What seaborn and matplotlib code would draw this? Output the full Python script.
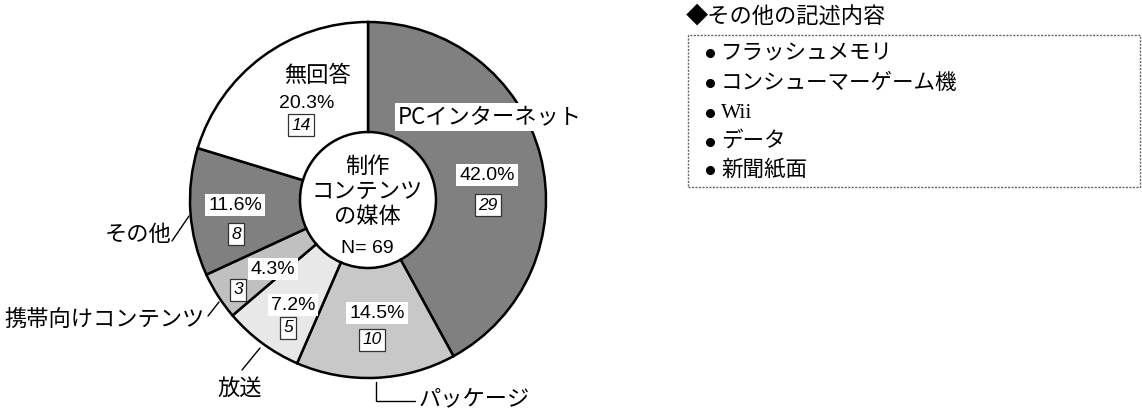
import matplotlib
matplotlib.use("Agg")
import matplotlib.pyplot as plt
import seaborn as sns

# Survey results: media used for produced content (N = 69)
categories = ["PCインターネット", "パッケージ", "放送", "携帯向けコンテンツ", "その他", "無回答"]
counts = [29, 10, 5, 3, 8, 14]
percents = [42.0, 14.5, 7.2, 4.3, 11.6, 20.3]
center_lines = ["制作", "コンテンツ", "の媒体"]
sample_size = 69
other_title = "◆その他の記述内容"
other_items = ["フラッシュメモリ", "コンシューマーゲーム機", "Wii", "データ", "新聞紙面"]

slice_colors = ["#808080", "#c8c8c8", "#e8e8e8", "#c0c0c0", "#808080", "#ffffff"]

sns.set_theme(style="white")
plt.rcParams["font.family"] = ["Noto Sans CJK JP", "DejaVu Sans"]
plt.rcParams["text.color"] = "black"

W, H = 1142, 412
fig = plt.figure(figsize=(W / 100, H / 100), dpi=100)
ax = fig.add_axes([0, 0, 1, 1])


def py(y):
    """Convert a top-down pixel row to the axes' bottom-up coordinate."""
    return H - y


cx, cy = 368, 200
r_out, r_in = 178, 68

ax.pie(
    counts,
    colors=slice_colors,
    startangle=90,
    counterclock=False,
    center=(cx, py(cy)),
    radius=r_out,
    wedgeprops=dict(width=r_out - r_in, edgecolor="black", linewidth=1.8),
)
ax.set_xlim(0, W)
ax.set_ylim(0, H)
ax.set_aspect("equal")
ax.axis("off")

latin = ["Liberation Sans", "DejaVu Sans"]
cjk = ["Noto Sans CJK JP", "DejaVu Sans"]
CAT = dict(fontsize=16, family=cjk, weight="normal", color="black")

# percentage and count labels (x, y of percent text; x, y of count box)
pct_pos = [(487, 175), (377, 313), (293, 305), (273, 269), (235, 205), (307, 103)]
cnt_pos = [(488, 205), (372, 340), (288, 328), (238, 290), (236, 234), (301, 125)]
for p, n, (px_, py_), (qx, qy) in zip(percents, counts, pct_pos, cnt_pos):
    ax.text(px_, py(py_), f"{p:.1f}%", ha="center", va="center", fontsize=14,
            family=latin, color="black",
            bbox=dict(boxstyle="square,pad=0.15", fc="white", ec="none"))
    ax.text(qx, py(qy), f"{n}", ha="center", va="center", fontsize=12.5,
            family=latin, style="italic", color="black",
            bbox=dict(boxstyle="square,pad=0.2", fc="white", ec="#333333", lw=0.9))

# category labels
ax.text(398, py(117), categories[0], ha="left", va="center",
        bbox=dict(boxstyle="square,pad=0.12", fc="white", ec="none"), **CAT)
ax.text(317, py(75), categories[5], ha="center", va="center", **CAT)

# パッケージ with elbow leader
ax.plot([376, 376, 415], [py(382), py(401), py(401)], color="black", lw=1.0)
ax.text(419, py(399), categories[1], ha="left", va="center", **CAT)

# 放送
ax.plot([260, 242], [py(348), py(370)], color="black", lw=1.0)
ax.text(240, py(388), categories[2], ha="center", va="center", **CAT)

# 携帯向けコンテンツ
ax.plot([219, 208], [py(302), py(316)], color="black", lw=1.0)
ax.text(205, py(319), categories[3], ha="right", va="center", **CAT)

# その他
ax.plot([189, 172], [py(216), py(241)], color="black", lw=1.0)
ax.text(171, py(234), categories[4], ha="right", va="center", **CAT)

# centre caption
for line, yy in zip(center_lines, [166, 191, 216]):
    ax.text(367, py(yy), line, ha="center", va="center", **CAT)
ax.text(367, py(248), f"N= {sample_size}", ha="center", va="center", fontsize=14,
        family=latin, color="black")

# free-text box for "other"
ax.text(686, py(16), other_title, ha="left", va="center", fontsize=16,
        family=cjk, weight="normal", color="black")
ax.add_patch(plt.Rectangle((688, py(187)), 1140 - 688, 187 - 35, fill=False,
                           ec="#666666", lw=1.0, ls=(0, (1.5, 1))))
for item, yy in zip(other_items, [53, 83, 113, 142, 170]):
    ax.plot([710], [py(yy)], marker="o", ms=5.5, color="black")
    ax.text(721, py(yy), item, ha="left", va="center", fontsize=15.5,
            family=["Liberation Serif", "Noto Sans CJK JP"] if item.isascii() else cjk,
            color="black")

fig.savefig("out.png", dpi=100)
